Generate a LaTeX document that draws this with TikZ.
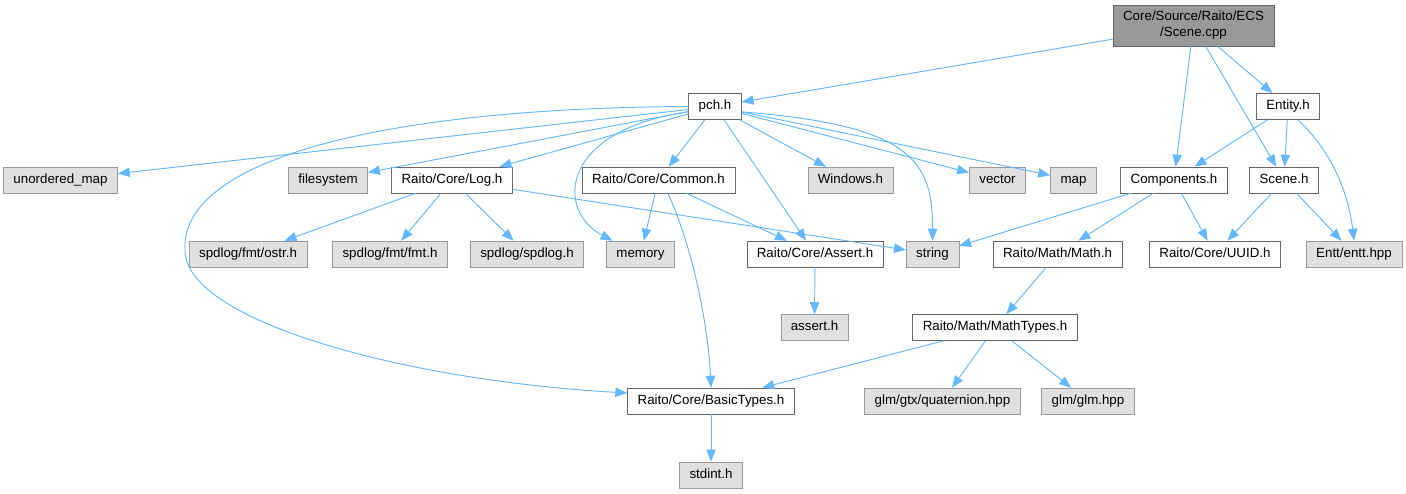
\documentclass[tikz,border=0pt]{standalone}
\usepackage{fontspec}
\setmainfont{Liberation Sans}
\usetikzlibrary{arrows.meta}
\definecolor{edgeblue}{HTML}{63B8FF}
\definecolor{boxline}{HTML}{666666}
\definecolor{sysline}{HTML}{999999}
\definecolor{sysfill}{HTML}{E0E0E0}
\begin{document}
\begin{tikzpicture}[x=0.75pt,y=-0.75pt,
  every node/.style={font=\fontsize{10}{12}\selectfont,inner xsep=7.5pt,inner ysep=0pt,minimum height=19.5pt},
  file/.style={draw=boxline,fill=white,text height=7pt,text depth=2pt},
  sys/.style={draw=sysline,fill=sysfill,text height=7pt,text depth=2pt},
  root/.style={draw=boxline,fill=sysline,align=center,minimum height=30.75pt},
  dep/.style={draw=edgeblue,line width=0.7pt,-{Triangle[length=9pt,width=7pt]}}]
\useasboundingbox (0,0) rectangle (1406,493);
\node[root] (scenecpp) at (1193.5,25.5) {Core/Source/Raito/ECS\\/Scene.cpp};
\node[file] (pch) at (715,106.5) {pch.h};
\node[file] (entity) at (1288,106.5) {Entity.h};
\node[sys] (umap) at (60.5,180) {unordered\_map};
\node[sys] (fs) at (328,180) {filesystem};
\node[file] (log) at (452,180) {Raito/Core/Log.h};
\node[file] (common) at (658.5,180) {Raito/Core/Common.h};
\node[sys] (windows) at (850.5,180) {Windows.h};
\node[sys] (vector) at (997.5,180) {vector};
\node[sys] (map) at (1073.5,180) {map};
\node[file] (components) at (1174,180) {Components.h};
\node[file] (sceneh) at (1284,180) {Scene.h};
\node[sys] (ostr) at (248,254) {spdlog/fmt/ostr.h};
\node[sys] (fmt) at (390,254) {spdlog/fmt/fmt.h};
\node[sys] (spdlog) at (527,254) {spdlog/spdlog.h};
\node[sys] (memory) at (640.5,254) {memory};
\node[file] (assert) at (815,254) {Raito/Core/Assert.h};
\node[sys] (string) at (932.5,254) {string};
\node[file] (math) at (1057.5,254) {Raito/Math/Math.h};
\node[file] (uuid) at (1215,254) {Raito/Core/UUID.h};
\node[sys] (entt) at (1354,254) {Entt/entt.hpp};
\node[sys] (asserth) at (814.5,327.5) {assert.h};
\node[file] (mathtypes) at (995,327.5) {Raito/Math/MathTypes.h};
\node[file] (basic) at (711,401) {Raito/Core/BasicTypes.h};
\node[sys] (quat) at (942.5,401) {glm/gtx/quaternion.hpp};
\node[sys] (glm) at (1088,401) {glm/glm.hpp};
\node[sys] (stdint) at (711,475) {stdint.h};
\foreach \a/\b in {scenecpp/pch,scenecpp/components,scenecpp/sceneh,scenecpp/entity,
  entity/components,entity/sceneh,pch/umap,pch/fs,pch/log,pch/common,pch/assert,
  pch/windows,pch/vector,pch/map,log/ostr,log/fmt,log/spdlog,log/string,
  common/memory,common/assert,assert/asserth,components/string,components/math,
  components/uuid,sceneh/uuid,sceneh/entt,math/mathtypes,mathtypes/basic,
  mathtypes/quat,mathtypes/glm,basic/stdint}{
 \draw[dep] (\a) -- (\b);
}
\draw[dep] (pch.west) .. controls (380,108) and (180,160) .. (185,250)
  .. controls (185,320) and (400,380) .. ([yshift=6pt]basic.west);
\draw[dep] ([yshift=-4pt]pch.west) .. controls (560,130) and (555,210) .. ([xshift=-21pt]memory.north);
\draw[dep] ([yshift=-4pt]pch.east) .. controls (910,125) and (933,160) .. (string.north);
\draw[dep] ([xshift=7pt]common.south) .. controls (690,240) and (708,320) .. (basic.north);
\draw[dep] ([xshift=7.5pt]entity.south) .. controls (1330,150) and (1348,190) .. (entt.north);
\end{tikzpicture}
\end{document}
